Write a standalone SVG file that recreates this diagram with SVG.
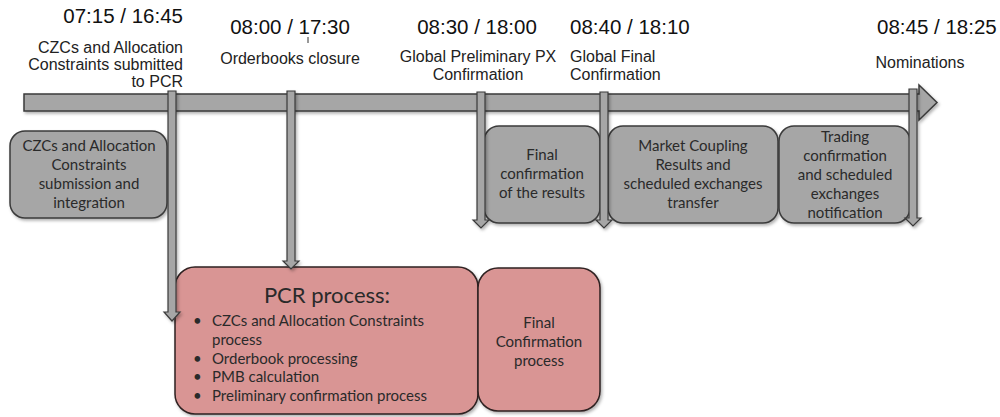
<svg xmlns="http://www.w3.org/2000/svg" width="1000" height="417" viewBox="0 0 1000 417">
<defs>
<filter id="sh" x="-10%" y="-10%" width="130%" height="130%">
<feDropShadow dx="1.5" dy="2" stdDeviation="1.5" flood-color="#000" flood-opacity="0.3"/>
</filter>
</defs>
<style>
.lbl{font-family:"Liberation Sans",Arial,sans-serif;font-size:16px;fill:#222}
.time{font-family:"Liberation Sans",Arial,sans-serif;font-size:20.5px;fill:#111}
.box{font-family:Lato,"Open Sans",sans-serif;font-size:15px;fill:#2a2a2a;text-anchor:middle}
.gray{fill:#a6a6a6;stroke:#3a3a3a;stroke-width:1.5}
.pink{fill:#d99594;stroke:#2e2020;stroke-width:1.5}
.arr{fill:#a6a6a6;stroke:#3a3a3a;stroke-width:1.2}
</style>
<rect width="1000" height="417" fill="#fff"/>

<g id="labels">
<text class="time" x="183" y="23" text-anchor="end">07:15 / 16:45</text>
<text class="lbl" x="183" y="53" text-anchor="end">CZCs and Allocation</text>
<text class="lbl" x="183" y="70" text-anchor="end">Constraints submitted</text>
<text class="lbl" x="183" y="87" text-anchor="end">to PCR</text>
<text class="time" x="290" y="34" text-anchor="middle">08:00 / 17:30</text>
<line x1="308" y1="37" x2="308" y2="43" stroke="#333" stroke-width="1"/>
<text class="lbl" x="290" y="64" text-anchor="middle">Orderbooks closure</text>
<text class="time" x="477" y="34" text-anchor="middle">08:30 / 18:00</text>
<text class="lbl" x="478" y="62" text-anchor="middle">Global Preliminary PX</text>
<text class="lbl" x="478" y="80" text-anchor="middle">Confirmation</text>
<text class="time" x="570" y="34">08:40 / 18:10</text>
<text class="lbl" x="570" y="62">Global Final</text>
<text class="lbl" x="570" y="80">Confirmation</text>
<text class="time" x="877" y="34">08:45 / 18:25</text>
<text class="lbl" x="920" y="68" text-anchor="middle">Nominations</text>
</g>

<g id="timeline" filter="url(#sh)">
<path class="gray" d="M24,94 H919 V85 L937,102.5 L919,120 V111 H24 Z"/>
</g>

<g id="n-czc">
<rect class="gray" x="10" y="131" width="157" height="87" rx="15" filter="url(#sh)"/>
<text class="box" x="89" y="151">CZCs and Allocation</text>
<text class="box" x="89" y="170">Constraints</text>
<text class="box" x="89" y="189">submission and</text>
<text class="box" x="89" y="208">integration</text>
</g>

<g id="n-finalconf">
<rect class="gray" x="484" y="126" width="116" height="97" rx="15" filter="url(#sh)"/>
<text class="box" x="542" y="160">Final</text>
<text class="box" x="542" y="179">confirmation</text>
<text class="box" x="542" y="198">of the results</text>
</g>

<g id="n-mcr">
<rect class="gray" x="608" y="126" width="170" height="97" rx="15" filter="url(#sh)"/>
<text class="box" x="693" y="151">Market Coupling</text>
<text class="box" x="693" y="170">Results and</text>
<text class="box" x="693" y="189">scheduled exchanges</text>
<text class="box" x="693" y="208">transfer</text>
</g>

<g id="n-trading">
<rect class="gray" x="779" y="126" width="131" height="97" rx="15" filter="url(#sh)"/>
<text class="box" x="845" y="142">Trading</text>
<text class="box" x="845" y="161">confirmation</text>
<text class="box" x="845" y="180">and scheduled</text>
<text class="box" x="845" y="199">exchanges</text>
<text class="box" x="845" y="218">notification</text>
</g>

<g id="n-pcr">
<rect class="pink" x="175" y="267" width="303" height="147" rx="20" filter="url(#sh)"/>
<text class="box" x="327" y="303" style="font-size:22px">PCR process:</text>
<g style="text-anchor:start">
<text class="box" x="193" y="326" style="text-anchor:start">•</text>
<text class="box" x="212" y="326" style="text-anchor:start">CZCs and Allocation Constraints</text>
<text class="box" x="212" y="345" style="text-anchor:start">process</text>
<text class="box" x="193" y="364" style="text-anchor:start">•</text>
<text class="box" x="212" y="364" style="text-anchor:start">Orderbook processing</text>
<text class="box" x="193" y="382" style="text-anchor:start">•</text>
<text class="box" x="212" y="382" style="text-anchor:start">PMB calculation</text>
<text class="box" x="193" y="401" style="text-anchor:start">•</text>
<text class="box" x="212" y="401" style="text-anchor:start">Preliminary confirmation process</text>
</g>
</g>

<g id="n-finalproc">
<rect class="pink" x="478" y="268" width="122" height="143" rx="20" filter="url(#sh)"/>
<text class="box" x="539" y="328">Final</text>
<text class="box" x="539" y="347">Confirmation</text>
<text class="box" x="539" y="366">process</text>
</g>

<g id="connectors" filter="url(#sh)">
<path class="arr" d="M168,91 H176 V312 H180 L172,321 L164,312 H168 Z"/>
<path class="arr" d="M287,91 H295 V261 H299 L291,269 L283,261 H287 Z"/>
<path class="arr" d="M477,92 H485 V220 H489 L481,228 L473,220 H477 Z"/>
<path class="arr" d="M600,92 H608 V220 H612 L604,228 L596,220 H600 Z"/>
<path class="arr" d="M909,89 H917 V218 H921 L913,226 L905,218 H909 Z"/>
</g>
</svg>
